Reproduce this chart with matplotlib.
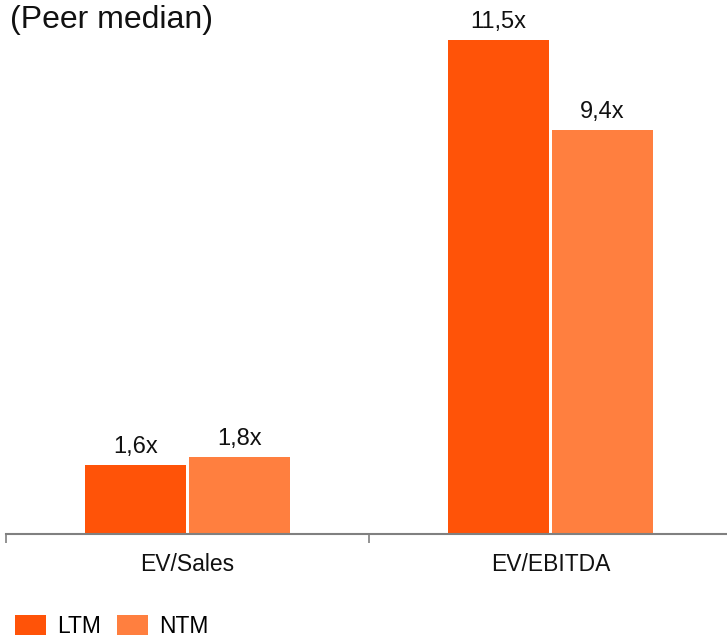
import matplotlib
matplotlib.use("Agg")
import matplotlib.pyplot as plt
import numpy as np

plt.rcParams['font.family'] = ['Liberation Sans', 'DejaVu Sans']

categories = ['EV/Sales', 'EV/EBITDA']
ltm = [1.6, 11.5]
ntm = [1.8, 9.4]
series_names = ['LTM', 'NTM']

c_ltm = '#FF5308'
c_ntm = '#FF7F3F'

fig = plt.figure(figsize=(7.27, 6.39), dpi=100)
# axes run slightly past the right edge, like the original slide export
ax = fig.add_axes([6 / 727, 105 / 639, 726 / 727, 534 / 639])

x = np.arange(len(categories))
w = 0.278
off = 0.143
b1 = ax.bar(x - off, ltm, w, color=c_ltm, label=series_names[0])
b2 = ax.bar(x + off, ntm, w, color=c_ntm, label=series_names[1])

for bars in (b1, b2):
    for r in bars:
        v = r.get_height()
        ax.annotate(f"{v:.1f}x".replace('.', ','),
                    (r.get_x() + r.get_width() / 2, v),
                    xytext=(0, 5), textcoords='offset points',
                    ha='center', va='bottom', fontsize=17, color='#111111')

ax.set_xlim(-0.5, 1.5)
ax.set_ylim(0, 534 / 42.96)

for s in ['top', 'left', 'right']:
    ax.spines[s].set_visible(False)
ax.spines['bottom'].set_color('#808080')
ax.spines['bottom'].set_linewidth(1.5)

ax.set_yticks([])
ax.set_xticks(x)
ax.set_xticklabels(categories, fontsize=16.5, color='#111111')
ax.tick_params(axis='x', which='major', length=0, pad=13.5)
ax.set_xticks([-0.5, 0.5, 1.5], minor=True)
ax.tick_params(axis='x', which='minor', length=6.5, width=1.2, color='#808080')

fig.text(10 / 727, 1 - 5 / 639, '(Peer median)', fontsize=23,
         ha='left', va='top', color='#111111')

fig.legend(handles=[b1, b2], loc='lower left', bbox_to_anchor=(15 / 727, 1 / 639),
           ncol=2, frameon=False, fontsize=16.5, borderpad=0, borderaxespad=0,
           handlelength=1.35, handleheight=0.92, handletextpad=0.48,
           columnspacing=0.7)

fig.savefig('out.png', dpi=100)
